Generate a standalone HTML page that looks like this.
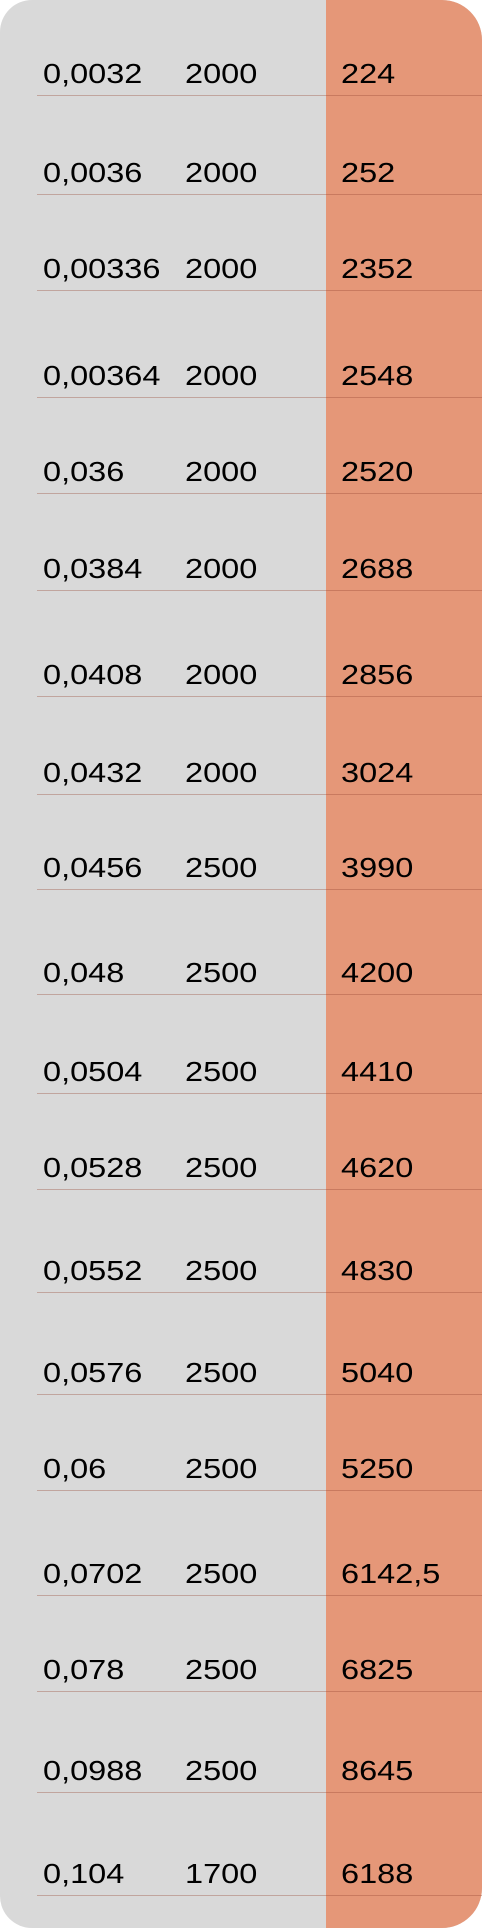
<!DOCTYPE html>
<html><head><meta charset="utf-8"><style>
html,body{margin:0;padding:0;background:#fff;}
#panel{position:absolute;left:0;top:0;width:482px;height:1928px;background:#d9d9d9;border-radius:32px 40px 40px 32px;overflow:hidden;}
#accent{position:absolute;left:326px;top:0;width:156px;height:1928px;background:#e59778;}
.t{position:absolute;font-family:"Liberation Sans",sans-serif;font-size:28px;color:#000;line-height:1;transform:scaleX(1.16);transform-origin:0 0;white-space:nowrap;}
.ln{position:absolute;left:37px;width:445px;height:1px;background:rgba(150,70,50,0.35);}
</style></head><body>
<div id="panel"><div id="accent"></div></div>
<div id="rows"></div>
<script>
const colA=["0,0032","0,0036","0,00336","0,00364","0,036","0,0384","0,0408","0,0432","0,0456","0,048","0,0504","0,0528","0,0552","0,0576","0,06","0,0702","0,078","0,0988","0,104"];
const colB=["2000","2000","2000","2000","2000","2000","2000","2000","2500","2500","2500","2500","2500","2500","2500","2500","2500","2500","1700"];
const colC=["224","252","2352","2548","2520","2688","2856","3024","3990","4200","4410","4620","4830","5040","5250","6142,5","6825","8645","6188"];
const lineY=[95,194,290,397,493,590,696,794,889,994,1093,1189,1292,1394,1490,1595,1691,1792,1895];
const root=document.getElementById('rows');
const xs=[43,185,341];
colA.forEach((a,i)=>{
  const vals=[a,colB[i],colC[i]];
  vals.forEach((v,j)=>{
    const d=document.createElement('div');
    d.className='t';
    
    
    d.textContent=v;
    d.style.left=xs[j]+'px';
    d.style.top=(lineY[i]-35)+'px';
    root.appendChild(d);
  });
  const l=document.createElement('div');
  l.className='ln';
  
  
  l.style.top=lineY[i]+'px';
  root.appendChild(l);
});
</script>
</body></html>
